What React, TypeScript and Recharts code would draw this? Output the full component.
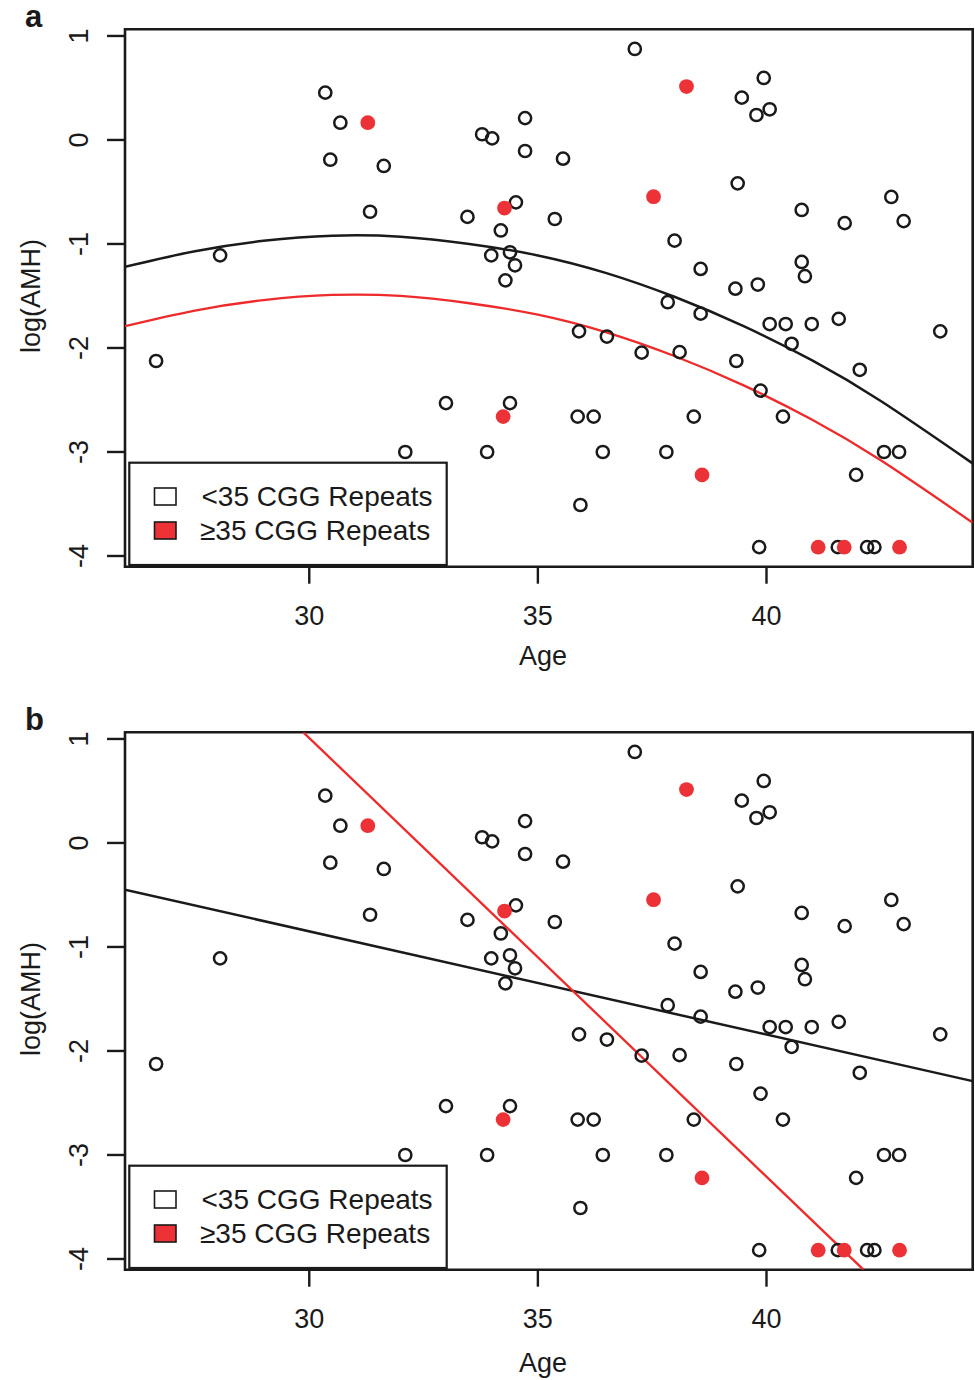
import React from "react";
import { ComposedChart, Line, Scatter, XAxis, YAxis, ReferenceArea } from "recharts";

// <35 CGG repeats (open circles)
const lowAge = [
  26.65, 28.05, 30.35, 30.68, 30.46, 31.63, 31.33, 32.1, 32.99, 33.46,
  33.78, 34.0, 33.89, 33.98, 34.19, 34.29, 34.39, 34.5, 34.52, 34.39,
  34.72, 34.72, 35.37, 35.55, 35.9, 35.87, 35.93, 36.22, 36.42, 36.51,
  37.12, 37.27, 37.81, 37.84, 37.99, 38.1, 38.41, 38.56, 38.56, 39.32,
  39.34, 39.37, 39.46, 39.78, 39.81, 39.84, 39.87, 39.94, 40.07, 40.07,
  40.36, 40.42, 40.55, 40.77, 40.77, 40.84, 40.99, 41.56, 41.58, 41.71,
  41.96, 42.04, 42.2, 42.36, 42.57, 42.73, 42.9, 43.0, 43.8,
];
const lowAmh = [
  -2.125, -1.11, 0.455, 0.166, -0.19, -0.25, -0.69, -3.0, -2.53, -0.74,
  0.055, 0.015, -3.0, -1.11, -0.87, -1.35, -1.08, -1.205, -0.6, -2.53,
  0.21, -0.106, -0.76, -0.18, -1.84, -2.66, -3.51, -2.66, -3.0, -1.89,
  0.875, -2.045, -3.0, -1.56, -0.968, -2.04, -2.66, -1.24, -1.67, -1.43,
  -2.125, -0.417, 0.407, 0.24, -1.39, -3.915, -2.41, 0.596, 0.295, -1.77,
  -2.66, -1.77, -1.96, -0.673, -1.173, -1.31, -1.77, -3.915, -1.72, -0.8,
  -3.22, -2.21, -3.915, -3.915, -3.0, -0.548, -3.0, -0.78, -1.84,
];

// >=35 CGG repeats (filled dots)
const highAge = [31.28, 34.27, 34.24, 37.53, 38.25, 38.59, 41.13, 41.7, 42.91];
const highAmh = [0.166, -0.655, -2.66, -0.545, 0.513, -3.22, -3.915, -3.915, -3.915];

// panel a: quadratic fits
const curveAge = [25.97, 27.5, 29, 30.5, 32, 33.5, 35, 36.5, 38, 39.5, 41, 42.5, 44.51];
const curveLowAmh = [-1.22, -1.07, -0.97, -0.92, -0.93, -1.0, -1.11, -1.28, -1.51, -1.79, -2.12, -2.51, -3.11];
const curveHighAmh = [-1.79, -1.64, -1.54, -1.49, -1.5, -1.57, -1.68, -1.85, -2.08, -2.36, -2.69, -3.08, -3.68];

// panel b: straight fits, where they meet the plot frame
const lineLowAge = [25.97, 44.51];
const lineLowAmh = [-0.45, -2.29];
const lineHighAge = [29.87, 42.12];
const lineHighAmh = [1.064, -4.103];

const xTicks = [30, 35, 40];
const yTicks = [-4, -3, -2, -1, 0, 1];
const X_DOMAIN: [number, number] = [25.97, 44.51];
const Y_DOMAIN: [number, number] = [-4.103, 1.064];

const INK = "#1a1a1a";
const RED = "#ec3237";
const RED_LINE = "#ee2a2a";
const FONT = "'Liberation Sans', Arial, Helvetica, sans-serif";

const W = 975;
const H = 677;
const PLOT_TOP = 29.3;
const PLOT_BOTTOM = 566.7;

const zip = (xs: number[], ys: number[]) => xs.map((age, i) => ({ age, amh: ys[i] }));

const lowPts = zip(lowAge, lowAmh);
const highPts = zip(highAge, highAmh);

const OpenCircle = (p: any) => (
  <circle cx={p.cx} cy={p.cy} r={6.1} fill="none" stroke={INK} strokeWidth={2.5} />
);
const FilledDot = (p: any) => <circle cx={p.cx} cy={p.cy} r={7.4} fill={RED} />;

const XTick = (p: any) => (
  <text x={p.x} y={PLOT_BOTTOM + 58.3} textAnchor="middle" fontSize={27} fontFamily={FONT} fill={INK}>
    {p.payload.value}
  </text>
);
const YTick = (p: any) => (
  <text
    x={88}
    y={p.y}
    transform={`rotate(-90 88 ${p.y})`}
    textAnchor="middle"
    fontSize={27}
    fontFamily={FONT}
    fill={INK}
  >
    {p.payload.value}
  </text>
);

function Legend() {
  return (
    <g fontFamily={FONT} fill={INK}>
      <rect x={129.3} y={462.7} width={317.4} height={102.3} fill="#fff" stroke={INK} strokeWidth={2.2} />
      <rect x={154.5} y={488} width={21.5} height={17} fill="#fff" stroke={INK} strokeWidth={1.6} />
      <rect x={154.5} y={522} width={21.5} height={17} fill={RED} stroke={INK} strokeWidth={1.6} />
      <text x={201.5} y={506} fontSize={28}>&lt;35 CGG Repeats</text>
      <text x={200} y={540} fontSize={28}>≥35 CGG Repeats</text>
    </g>
  );
}

type Fit = { ages: number[]; amh: number[]; color: string; width: number; curved: boolean };

function Panel({ tag, top, fits, ageY }: { tag: string; top: number; fits: Fit[]; ageY: number }) {
  return (
    <div style={{ position: "absolute", left: 0, top, width: W, height: H }}>
      <ComposedChart width={W} height={H} margin={{ top: PLOT_TOP, right: 2.3, bottom: 30.3, left: 0 }}>
        <XAxis
          type="number"
          dataKey="age"
          domain={X_DOMAIN}
          ticks={xTicks}
          allowDataOverflow
          height={80}
          tickSize={17}
          axisLine={false}
          tickLine={{ stroke: INK, strokeWidth: 2.4 }}
          tick={XTick}
        />
        <YAxis
          type="number"
          dataKey="amh"
          domain={Y_DOMAIN}
          ticks={yTicks}
          allowDataOverflow
          width={125}
          tickSize={18}
          axisLine={false}
          tickLine={{ stroke: INK, strokeWidth: 2.4 }}
          tick={YTick}
        />
        {fits.map((f, i) => (
          <Line
            key={i}
            data={zip(f.ages, f.amh)}
            dataKey="amh"
            type={f.curved ? "natural" : "linear"}
            stroke={f.color}
            strokeWidth={f.width}
            dot={false}
            activeDot={false}
            isAnimationActive={false}
          />
        ))}
        <Scatter data={lowPts} dataKey="amh" shape={OpenCircle} isAnimationActive={false} />
        <Scatter data={highPts} dataKey="amh" shape={FilledDot} isAnimationActive={false} />
        <ReferenceArea
          x1={X_DOMAIN[0]}
          x2={X_DOMAIN[1]}
          y1={Y_DOMAIN[0]}
          y2={Y_DOMAIN[1]}
          fill="none"
          fillOpacity={0}
          stroke={INK}
          strokeWidth={2.6}
          ifOverflow="visible"
        />
      </ComposedChart>
      <svg
        width={W}
        height={H}
        style={{ position: "absolute", left: 0, top: 0, pointerEvents: "none" }}
      >
        <Legend />
        <text x={25} y={27} fontSize={31} fontWeight="bold" fontFamily={FONT} fill={INK}>
          {tag}
        </text>
        <text x={543} y={ageY} textAnchor="middle" fontSize={27} fontFamily={FONT} fill={INK}>
          Age
        </text>
        <text
          x={39.5}
          y={296}
          transform="rotate(-90 39.5 296)"
          textAnchor="middle"
          fontSize={27}
          fontFamily={FONT}
          fill={INK}
        >
          log(AMH)
        </text>
      </svg>
    </div>
  );
}

export default function App() {
  const fitsA: Fit[] = [
    { ages: curveAge, amh: curveLowAmh, color: INK, width: 2.5, curved: true },
    { ages: curveAge, amh: curveHighAmh, color: RED_LINE, width: 2.3, curved: true },
  ];
  const fitsB: Fit[] = [
    { ages: lineLowAge, amh: lineLowAmh, color: INK, width: 2.5, curved: false },
    { ages: lineHighAge, amh: lineHighAmh, color: RED_LINE, width: 2.3, curved: false },
  ];
  return (
    <div style={{ position: "absolute", left: 0, top: 0, width: W, height: 1380, background: "#fff" }}>
      <Panel tag="a" top={0} fits={fitsA} ageY={665} />
      <Panel tag="b" top={703} fits={fitsB} ageY={668.7} />
    </div>
  );
}
